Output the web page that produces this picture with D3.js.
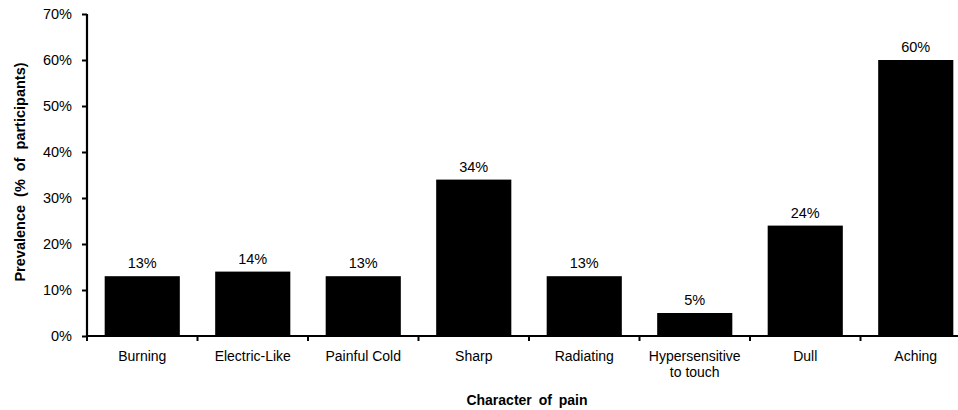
<!DOCTYPE html>
<html><head><meta charset="utf-8">
<script src="https://cdn.jsdelivr.net/npm/d3@7"></script>
<style>body{margin:0;background:#fff;} svg{display:block;} text{font-family:"Liberation Sans",Arial,sans-serif;fill:#000;}</style>
</head><body><svg id="c" width="958" height="410"></svg>
<script>
const categories = ["Burning","Electric-Like","Painful Cold","Sharp","Radiating","Hypersensitive\nto touch","Dull","Aching"];
const values = [13,14,13,34,13,5,24,60];
const yTicks = [0,10,20,30,40,50,60,70];

const svg = d3.select("#c");
const x = d3.scaleBand().domain(categories).range([87, 971]).paddingInner(0.32).paddingOuter(0.16);
const y = d3.scaleLinear().domain([0,70]).range([336, 14]);

// bars
svg.selectAll("rect.bar").data(values).enter().append("rect")
  .attr("x",(d,i)=>x(categories[i])).attr("width",x.bandwidth())
  .attr("y",d=>y(d)).attr("height",d=>y(0)-y(d)).attr("fill","#000");

// value labels
svg.selectAll("text.val").data(values).enter().append("text")
  .attr("x",(d,i)=>x(categories[i])+x.bandwidth()/2).attr("y",d=>y(d)-8)
  .attr("text-anchor","middle").style("font-size","14.5px").text(d=>d+"%");

// y axis
const yAxis = svg.append("g").attr("transform","translate(87,0)")
  .call(d3.axisLeft(y).tickValues(yTicks).tickFormat(d=>d+"%").tickSize(5).tickPadding(10));
yAxis.select(".domain").attr("stroke-width",2.2).attr("d","M0,"+y(70)+"V"+y(0));
yAxis.selectAll(".tick line").attr("stroke-width",2);
yAxis.selectAll(".tick text").style("font-size","14.5px").style("font-family","'Liberation Sans',Arial,sans-serif").attr("fill","#000");

// x axis line and ticks at band boundaries
const x0 = 87;
svg.append("line").attr("x1",x0-1).attr("x2",971).attr("y1",y(0)).attr("y2",y(0)).attr("stroke","#000").attr("stroke-width",2.2);
const bounds = d3.range(categories.length+1).map(i=>x0 + i*(971-x0)/categories.length);
svg.selectAll("line.xt").data(bounds).enter().append("line")
  .attr("x1",d=>d).attr("x2",d=>d).attr("y1",y(0)).attr("y2",y(0)+5).attr("stroke","#000").attr("stroke-width",2);

// category labels
svg.selectAll("text.cat").data(categories).enter().append("text")
  .attr("text-anchor","middle").style("font-size","14px")
  .attr("transform",d=>"translate("+(x(d)+x.bandwidth()/2)+",361)")
  .each(function(d){
    const lines=d.split("\n");
    d3.select(this).selectAll("tspan").data(lines).enter().append("tspan")
      .attr("x",0).attr("dy",(l,i)=>i===0?0:"16").text(l=>l);
  });

// axis titles
svg.append("text").attr("x",527).attr("y",405).attr("text-anchor","middle")
  .style("font-size","14px").style("font-weight","bold").style("word-spacing","3px").text("Character of pain");
svg.append("text").attr("transform","translate(25,172) rotate(-90)").attr("text-anchor","middle")
  .style("font-size","14.5px").style("font-weight","bold").style("word-spacing","4px").text("Prevalence (% of participants)");
</script></body></html>
